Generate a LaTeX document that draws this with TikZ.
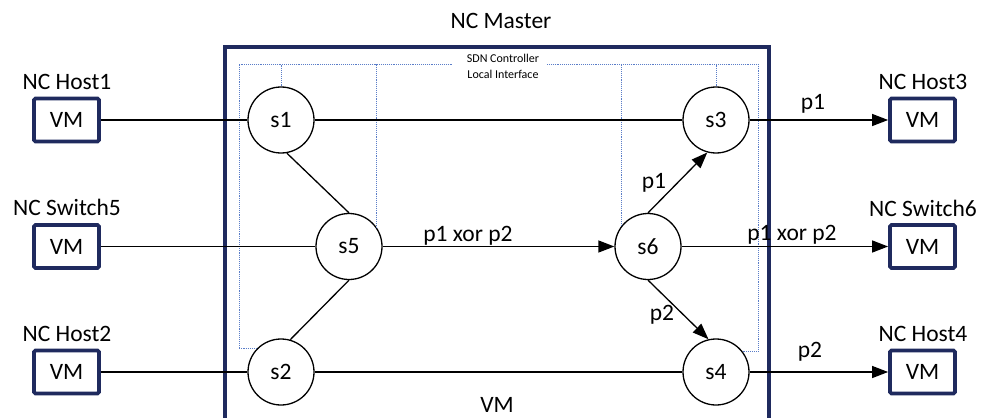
\documentclass[tikz,border=0pt]{standalone}
\usepackage{fontspec}
\setmainfont{Carlito}
\usetikzlibrary{arrows.meta}
\definecolor{navy}{RGB}{31,42,94}
\definecolor{dotblue}{RGB}{90,125,200}
\begin{document}
\begin{tikzpicture}[x=1pt,y=-1pt,
  every node/.style={font=\fontsize{23.5}{28}\selectfont},
  sw/.style={circle, draw, fill=white, line width=1.3pt, minimum size=66pt, inner sep=0pt},
  vmbox/.style={draw=navy, fill=white, line width=3.8pt, minimum width=65pt, minimum height=43pt, rounded corners=1.5pt, inner sep=0pt},
  txt/.style={inner sep=0pt},
  link/.style={line width=1.3pt},
  arr/.style={line width=1.3pt, -{Triangle[length=16pt,width=12pt]}},
  dotln/.style={draw=dotblue, line width=0.9pt, densely dotted}]
\useasboundingbox (0,0) rectangle (981,417);
\clip (0,0) rectangle (981,417);
\coordinate (top) at (0,64);
% switches
\node[sw] (s1) at (281,120) {s1};
\node[sw] (s5) at (349,246.5) {s5};
\node[sw] (s2) at (281,372) {s2};
\node[sw] (s3) at (716,120) {s3};
\node[sw] (s6) at (648,246.5) {s6};
\node[sw] (s4) at (716,372) {s4};
% dotted SDN controller interface
\draw[dotln] (s2.136) -| (top -| 239,0) -- (452,64);
\draw[dotln] (547,64) -- (758,64) |- (s4.38);
\draw[dotln] (s1.north) -- (s1.north |- top);
\draw[dotln] (s5.34) -- (s5.34 |- top);
\draw[dotln] (s6.142) -- (s6.142 |- top);
\draw[dotln] (s3.north) -- (s3.north |- top);
\node[txt, align=center, font=\fontsize{12}{16}\selectfont] (sdn) at (503,66.5) {SDN Controller\\Local Interface};
% master box
\draw[navy, line width=4pt] (225,440) -- (225,47) -- (769,47) -- (769,440);
\node[txt] (mastert) at (501,21) {NC Master};
\node[txt] (vmbot) at (497,405) {VM};
% hosts
\node[vmbox] (h1) at (66.5,120) {VM};
\node[vmbox] (sw5) at (66.5,246.5) {VM};
\node[vmbox] (h2) at (66.5,372) {VM};
\node[vmbox] (h3) at (922.5,120) {VM};
\node[vmbox] (sw6) at (922.5,246.5) {VM};
\node[vmbox] (h4) at (922.5,372) {VM};
\node[txt] (h1l) at (67,82) {NC Host1};
\node[txt] (sw5l) at (67,207.5) {NC Switch5};
\node[txt] (h2l) at (67,333.5) {NC Host2};
\node[txt] (h3l) at (923,82) {NC Host3};
\node[txt] (sw6l) at (923,208) {NC Switch6};
\node[txt] (h4l) at (923,333.5) {NC Host4};
% connectors
\draw[link] (h1) -- (s1);
\draw[link] (s1) -- (s3);
\draw[arr] (s3) -- (h3);
\draw[link] (sw5) -- (s5);
\draw[arr] (s5) -- (s6);
\draw[arr] (s6) -- (sw6);
\draw[link] (h2) -- (s2);
\draw[link] (s2) -- (s4);
\draw[arr] (s4) -- (h4);
\draw[link] (s1.280) -- (s5.90);
\draw[link] (s5.270) -- (s2.74);
\draw[arr] (s6.90) -- (s3.255);
\draw[arr] (s6.270) -- (s4.103);
% labels
\node[txt] (lp1a) at (813,104) {p1};
\node[txt] (lxr) at (792,235) {p1 xor p2};
\node[txt] (lp2a) at (810,352) {p2};
\node[txt] (lxm) at (468,236) {p1 xor p2};
\node[txt] (lp1b) at (654,183) {p1};
\node[txt] (lp2b) at (662,315) {p2};
\end{tikzpicture}
\end{document}
